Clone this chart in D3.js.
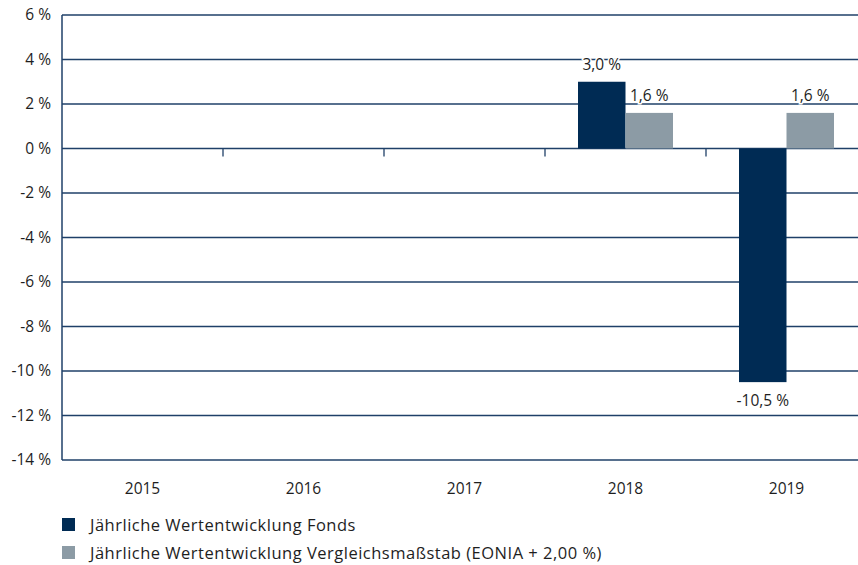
<!DOCTYPE html>
<html>
<head>
<meta charset="utf-8">
<script src="https://cdn.jsdelivr.net/npm/d3@7"></script>
<style>
  body { margin: 0; background: #fff; }
  svg text { font-family: "Open Sans", sans-serif; fill: #1e1e1e; }
</style>
</head>
<body>
<svg id="drawing_region"></svg>
<script>
const years = ['2015', '2016', '2017', '2018', '2019'];
const fonds = [null, null, null, 3.0, -10.5];
const benchmark = [null, null, null, 1.6, 1.6];
const yTicks = [6, 4, 2, 0, -2, -4, -6, -8, -10, -12, -14];
const seriesNames = ['Jährliche Wertentwicklung Fonds', 'Jährliche Wertentwicklung Vergleichsmaßstab (EONIA + 2,00 %)'];
const colors = ['#002b54', '#8c9ba5'];

const width = 858, height = 565;
const svg = d3.select('#drawing_region').attr('width', width).attr('height', height);

const x = d3.scaleBand().domain(years).range([62, 867]);
const y = d3.scaleLinear().domain([-14, 6]).range([460, 15]);
const sub = d3.scaleBand().domain([0, 1]).range([0, 95]);
const fmt = v => d3.format('.1f')(v).replace('.', ',').replace('\u2212', '-') + ' %';

const gridColor = '#1f4068';

// gridlines
svg.append('g').selectAll('line')
  .data(yTicks)
  .join('line')
  .attr('x1', 62).attr('x2', width)
  .attr('y1', d => y(d)).attr('y2', d => y(d))
  .attr('stroke', gridColor).attr('stroke-width', 1.3);

// y axis labels
svg.append('g').selectAll('text')
  .data(yTicks)
  .join('text')
  .attr('x', 51).attr('y', d => y(d))
  .attr('dy', '0.35em')
  .attr('text-anchor', 'end')
  .attr('font-size', 15.5)
  .text(d => d + ' %');

// y axis line
svg.append('line')
  .attr('x1', 62).attr('x2', 62)
  .attr('y1', y(6)).attr('y2', y(-14))
  .attr('stroke', gridColor).attr('stroke-width', 1.5);

// category ticks on zero line
svg.append('g').selectAll('line')
  .data(years.slice(1))
  .join('line')
  .attr('x1', d => x(d)).attr('x2', d => x(d))
  .attr('y1', y(0)).attr('y2', y(0) + 8)
  .attr('stroke', gridColor).attr('stroke-width', 1.3);

// category labels
svg.append('g').selectAll('text')
  .data(years)
  .join('text')
  .attr('x', d => x(d) + x.bandwidth() / 2)
  .attr('y', 489)
  .attr('dy', '0.35em')
  .attr('text-anchor', 'middle')
  .attr('font-size', 15.5)
  .text(d => d);

// bars
const series = [fonds, benchmark];
series.forEach((vals, si) => {
  const pts = years.map((yr, i) => ({ yr, v: vals[i] })).filter(d => d.v !== null);
  const bx = d => x(d.yr) + (x.bandwidth() - 95) / 2 + sub(si);
  svg.append('g').selectAll('rect')
    .data(pts)
    .join('rect')
    .attr('x', bx)
    .attr('width', sub.bandwidth())
    .attr('y', d => y(Math.max(0, d.v)))
    .attr('height', d => Math.abs(y(d.v) - y(0)))
    .attr('fill', colors[si]);
  svg.append('g').selectAll('text')
    .data(pts)
    .join('text')
    .attr('x', d => bx(d) + sub.bandwidth() / 2)
    .attr('y', d => d.v >= 0 ? y(d.v) - 17 : y(d.v) + 18)
    .attr('dy', '0.35em')
    .attr('text-anchor', 'middle')
    .attr('font-size', 15.5)
    .attr('stroke', '#fff').attr('stroke-width', 3)
    .attr('paint-order', 'stroke')
    .text(d => fmt(d.v));
});

// legend
const legend = svg.append('g').selectAll('g')
  .data(seriesNames)
  .join('g')
  .attr('transform', (d, i) => `translate(62, ${518 + i * 28})`);
legend.append('rect')
  .attr('width', 13).attr('height', 13)
  .attr('fill', (d, i) => colors[i]);
legend.append('text')
  .attr('x', 28).attr('y', 7)
  .attr('dy', '0.35em')
  .attr('font-size', 16.5)
  .attr('letter-spacing', 0.5)
  .text(d => d);
</script>
</body>
</html>
